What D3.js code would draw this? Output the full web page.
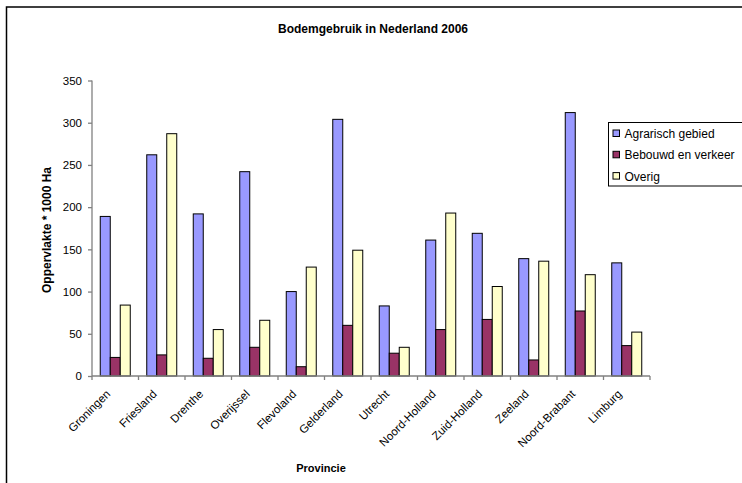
<!DOCTYPE html>
<html>
<head>
<meta charset="utf-8">
<script src="https://cdn.jsdelivr.net/npm/d3@7"></script>
<style>
  body { margin: 0; background: #fff; }
  text { font-family: "Liberation Sans", Arial, sans-serif; }
</style>
</head>
<body>
<div id="chart"></div>
<script>
// Data
var provinces = ["Groningen", "Friesland", "Drenthe", "Overijssel", "Flevoland", "Gelderland",
  "Utrecht", "Noord-Holland", "Zuid-Holland", "Zeeland", "Noord-Brabant", "Limburg"];
var seriesNames = ["Agrarisch gebied", "Bebouwd en verkeer", "Overig"];
var agrarisch = [189, 262, 192, 242, 100, 304, 83, 161, 169, 139, 312, 134];
var bebouwd = [22, 25, 21, 34, 11, 60, 27, 55, 67, 19, 77, 36];
var overig = [84, 287, 55, 66, 129, 149, 34, 193, 106, 136, 120, 52];
var yTicks = [0, 50, 100, 150, 200, 250, 300, 350];
var colors = ["#9999FF", "#993366", "#FFFFCC"];

var width = 742, height = 483;
var margin = { top: 80.5, left: 92, right: 92, bottom: 107 };

var svg = d3.select("#chart").append("svg")
  .attr("width", width)
  .attr("height", height);

// Outer frame
svg.append("rect")
  .attr("x", 6.5).attr("y", 7)
  .attr("width", 760).attr("height", 500)
  .attr("fill", "none")
  .attr("stroke", "#000")
  .attr("stroke-width", 1.5);

// Scales
var x0 = d3.scaleBand()
  .domain(provinces)
  .range([margin.left, 650])
  .paddingInner(0.355)
  .paddingOuter(0.1775);

var x1 = d3.scaleBand()
  .domain(seriesNames)
  .range([0, x0.bandwidth()]);

var y = d3.scaleLinear()
  .domain([0, 350])
  .range([376, margin.top]);

var rows = provinces.map(function (p, i) {
  return { name: p, values: [agrarisch[i], bebouwd[i], overig[i]] };
});

// Bars
var groups = svg.selectAll("g.group")
  .data(rows)
  .enter().append("g")
  .attr("class", "group")
  .attr("transform", function (d) { return "translate(" + x0(d.name) + ",0)"; });

groups.selectAll("rect")
  .data(function (d) { return d.values.map(function (v, k) { return { key: seriesNames[k], value: v, k: k }; }); })
  .enter().append("rect")
  .attr("x", function (d) { return x1(d.key); })
  .attr("y", function (d) { return y(d.value); })
  .attr("width", x1.bandwidth())
  .attr("height", function (d) { return y(0) - y(d.value); })
  .attr("fill", function (d) { return colors[d.k]; })
  .attr("stroke", "#000")
  .attr("stroke-width", 1);

// Y axis
var yAxis = svg.append("g")
  .attr("transform", "translate(" + margin.left + ",0)")
  .call(d3.axisLeft(y).tickValues(yTicks).tickSize(4).tickPadding(6));
yAxis.selectAll("path, line").attr("stroke", "#808080").attr("stroke-width", 1.3);
yAxis.select(".domain").attr("d", "M0," + y(350) + "V" + y(0));
yAxis.selectAll("text").attr("font-size", "11.5px").attr("fill", "#000")
  .attr("font-family", "Liberation Sans, Arial, sans-serif");

// X axis with ticks at category boundaries
var bounds = d3.range(provinces.length + 1).map(function (i) {
  return margin.left + i * x0.step();
});
var xg = svg.append("g");
xg.append("line")
  .attr("x1", margin.left).attr("x2", 650)
  .attr("y1", y(0)).attr("y2", y(0))
  .attr("stroke", "#808080").attr("stroke-width", 1.3);
xg.selectAll("line.tick")
  .data(bounds)
  .enter().append("line")
  .attr("class", "tick")
  .attr("x1", function (d) { return d; }).attr("x2", function (d) { return d; })
  .attr("y1", y(0)).attr("y2", y(0) + 4)
  .attr("stroke", "#808080").attr("stroke-width", 1.3);

xg.selectAll("text")
  .data(provinces)
  .enter().append("text")
  .attr("transform", function (d) {
    return "translate(" + (x0(d) + x0.bandwidth() / 2 - 10) + "," + (y(0) + 13) + ") rotate(-45)";
  })
  .attr("text-anchor", "end")
  .attr("dy", "0.7em")
  .attr("font-size", "11.5px")
  .text(function (d) { return d; });

// Titles
svg.append("text")
  .attr("x", 373).attr("y", 33)
  .attr("text-anchor", "middle")
  .attr("font-size", "12px")
  .attr("font-weight", "bold")
  .text("Bodemgebruik in Nederland 2006");

svg.append("text")
  .attr("transform", "translate(51,230) rotate(-90)")
  .attr("text-anchor", "middle")
  .attr("font-size", "12px")
  .attr("font-weight", "bold")
  .text("Oppervlakte * 1000 Ha");

svg.append("text")
  .attr("x", 321).attr("y", 472)
  .attr("text-anchor", "middle")
  .attr("font-size", "11px")
  .attr("font-weight", "bold")
  .text("Provincie");

// Legend
var legend = svg.append("g").attr("transform", "translate(608.5,122.5)");
legend.append("rect")
  .attr("width", 160).attr("height", 63.5)
  .attr("fill", "#fff")
  .attr("stroke", "#000")
  .attr("stroke-width", 1);

var items = legend.selectAll("g.item")
  .data(seriesNames)
  .enter().append("g")
  .attr("class", "item")
  .attr("transform", function (d, i) { return "translate(0," + (11 + i * 21.3) + ")"; });
items.append("rect")
  .attr("x", 4.5).attr("y", -3.5)
  .attr("width", 6.5).attr("height", 6.5)
  .attr("fill", function (d, i) { return colors[i]; })
  .attr("stroke", "#000")
  .attr("stroke-width", 1);
items.append("text")
  .attr("x", 16).attr("y", 4.5)
  .attr("font-size", "12px")
  .text(function (d) { return d; });
</script>
</body>
</html>
